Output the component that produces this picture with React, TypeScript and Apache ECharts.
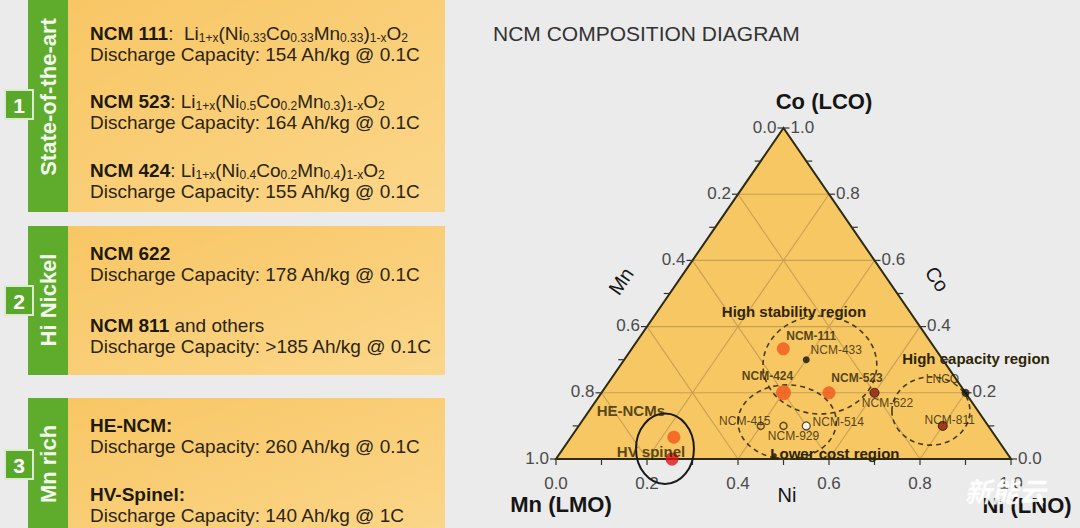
import React, { useEffect, useRef } from "react";
import * as echarts from "echarts";

const FONT = "'Liberation Sans', Arial, Helvetica, sans-serif";

// ---------------- Ternary data: Ni fraction, Co fraction (Mn = 1 - Ni - Co) ----------------
const POINT_NAMES = [
  "NCM-111", "NCM-433", "NCM-424", "NCM-523", "NCM-622", "LNCO", "NCM-811",
  "NCM-514", "NCM-929", "NCM-415", "HE-NCMs", "HV spinel", "",
];
const POINT_NI = [0.333, 0.4, 0.4, 0.5, 0.6, 0.8, 0.8, 0.5, 0.45, 0.4, 0.226, 0.255, 0.475];
const POINT_CO = [0.333, 0.3, 0.2, 0.2, 0.2, 0.2, 0.1, 0.1, 0.1, 0.1, 0.066, 0.0, 0.01];

// Regions (centre in ternary Ni/Co, radii in axis units)
const REGION_NAMES = ["High stability region", "Lower cost region", "High capacity region", ""];
const REGION_NI = [0.438, 0.452, 0.7515, 0.224];
const REGION_CO = [0.284, 0.112, 0.145, 0.031];
const REGION_RX = [0.125, 0.108, 0.0857, 0.0637];
const REGION_RY = [0.148, 0.112, 0.103, 0.1067];
const REGION_DASHED = [true, true, true, false];
const REGION_LABEL_NI = [0.2995, 0.604, 0.7705, 0];
const REGION_LABEL_CO = [0.447, 0.018, 0.305, 0];

// Axes
const CORNER_NI = [0, 1, 0];
const CORNER_CO = [0, 0, 1];
const GRID_LEVELS = [0.2, 0.4, 0.6, 0.8];
const MAJOR_TICKS = [0, 0.2, 0.4, 0.6, 0.8, 1.0];
const TICK_LABELS = ["0.0", "0.2", "0.4", "0.6", "0.8", "1.0"];
const MINOR_TICKS = [0.1, 0.3, 0.5, 0.7, 0.9];

// Left panels content
const PANEL_TITLES = ["State-of-the-art", "Hi Nickel", "Mn rich"];
const PANEL_NUMBERS = ["1", "2", "3"];
const PANEL_LINES = [
  "{b|NCM 111}{r|:  Li}{s|1+x}{r|(Ni}{s|0.33}{r|Co}{s|0.33}{r|Mn}{s|0.33}{r|)}{s|1-x}{r|O}{s|2}",
  "{r|Discharge Capacity: 154 Ah/kg @ 0.1C}",
  "{b|NCM 523}{r|: Li}{s|1+x}{r|(Ni}{s|0.5}{r|Co}{s|0.2}{r|Mn}{s|0.3}{r|)}{s|1-x}{r|O}{s|2}",
  "{r|Discharge Capacity: 164 Ah/kg @ 0.1C}",
  "{b|NCM 424}{r|: Li}{s|1+x}{r|(Ni}{s|0.4}{r|Co}{s|0.2}{r|Mn}{s|0.4}{r|)}{s|1-x}{r|O}{s|2}",
  "{r|Discharge Capacity: 155 Ah/kg @ 0.1C}",
  "{b|NCM 622}",
  "{r|Discharge Capacity: 178 Ah/kg @ 0.1C}",
  "{b|NCM 811}{r| and others}",
  "{r|Discharge Capacity: >185 Ah/kg @ 0.1C}",
  "{b|HE-NCM:}",
  "{r|Discharge Capacity: 260 Ah/kg @ 0.1C}",
  "{b|HV-Spinel:}",
  "{r|Discharge Capacity: 140 Ah/kg @ 1C}",
];

// ---------------- Layout / style (not data) ----------------
const LINE_Y = [33, 54, 101, 122, 170, 191, 253, 274, 325, 346, 425, 446, 494, 515];
const PANEL_TOPS = [0, 226, 398];
const PANEL_BOTTOMS = [212, 375, 540];
const PANEL_TITLE_Y = [97, 300, 464];
const BOX_Y = [90, 286, 450];

const POINT_STYLE: Record<string, any> = {
  "NCM-111": { size: 13, color: "#f2561d", offset: [28, -13], bold: true },
  "NCM-433": { size: 7, color: "#111", offset: [30, -10] },
  "NCM-424": { size: 15, color: "#f2561d", offset: [-16, -17], bold: true },
  "NCM-523": { size: 13, color: "#f2561d", offset: [28, -15], bold: true },
  "NCM-622": { size: 9, color: "#8a1c0c", border: "#2a0a00", bw: 1, offset: [13, 10] },
  LNCO: { size: 8, color: "#111", offset: [-23, -14] },
  "NCM-811": { size: 9, color: "#8a1c0c", border: "#2a0a00", bw: 1, offset: [7, -6] },
  "NCM-514": { size: 8, color: "#ffffff", border: "#222", bw: 1.2, offset: [32, -4] },
  "NCM-929": { size: 7, color: "rgba(0,0,0,0)", border: "#3a2a05", bw: 1.5, offset: [10, 10] },
  "NCM-415": { size: 7, color: "rgba(0,0,0,0)", border: "#3a2a05", bw: 1.5, offset: [-16, -5] },
  "HE-NCMs": { size: 13, color: "#f2561d", offset: [-43, -27], bold: true, fs: 15 },
  "HV spinel": { size: 13, color: "#e0141c", offset: [-21, -8], bold: true, fs: 15 },
  "": { size: 5, color: "#111", offset: [0, 0] },
};

const toXY = (ni: number, co: number) => [ni + co / 2, co];

function buildOption() {
  const pointData = POINT_NAMES.map((name, i) => {
    const st = POINT_STYLE[name];
    return {
      name,
      value: toXY(POINT_NI[i], POINT_CO[i]),
      symbolSize: st.size,
      itemStyle: { color: st.color, borderColor: st.border || st.color, borderWidth: st.bw || 0 },
      label: {
        show: name !== "",
        position: "inside",
        offset: st.offset,
        fontSize: st.fs || 12,
        fontWeight: st.bold ? "bold" : "normal",
        color: st.fs ? "#2e2506" : "#2b2205",
        fontFamily: FONT,
        textBorderWidth: 0,
      },
    };
  });

  const tickData: number[][] = [];
  [...MAJOR_TICKS, ...MINOR_TICKS].forEach((v) => {
    const major = MAJOR_TICKS.indexOf(v) >= 0 ? 1 : 0;
    tickData.push([...toXY(v, 0), 0, v, major]); // Ni axis (bottom)
    tickData.push([...toXY(0, 1 - v), 1, v, major]); // Mn axis (left edge)
    tickData.push([...toXY(1 - v, v), 2, v, major]); // Co axis (right edge)
  });

  const regionData = REGION_NAMES.map((n, i) => [
    ...toXY(REGION_NI[i], REGION_CO[i]),
    REGION_RX[i],
    REGION_RY[i],
    REGION_DASHED[i] ? 1 : 0,
    i,
  ]);
  const regionLabelData = REGION_NAMES.map((n, i) => [...toXY(REGION_LABEL_NI[i], REGION_LABEL_CO[i]), i]).filter(
    (d) => REGION_NAMES[d[2]] !== ""
  );

  const graphics: any[] = [];
  graphics.push({
    type: "text",
    x: 493,
    y: 33,
    style: { text: "NCM COMPOSITION DIAGRAM", fill: "#333", fontSize: 21, fontFamily: FONT, align: "left", verticalAlign: "middle" },
  });
  const axisTitle = (text: string, x: number, y: number, bold: boolean, size: number, rotation = 0) => ({
    type: "text",
    x,
    y,
    rotation,
    style: { text, fill: "#151515", fontSize: size, fontWeight: bold ? "bold" : "normal", fontFamily: FONT, align: "center", verticalAlign: "middle" },
  });
  graphics.push(axisTitle("Co (LCO)", 824, 101, true, 22));
  graphics.push(axisTitle("Mn (LMO)", 561, 504, true, 22));
  graphics.push(axisTitle("Ni (LNO)", 1027, 505, true, 22));
  graphics.push(axisTitle("Mn", 621, 281, false, 20, 0.97));
  graphics.push(axisTitle("Co", 937, 279, false, 20, -0.97));
  graphics.push(axisTitle("Ni", 787, 495, false, 20));

  PANEL_TOPS.forEach((top, i) => {
    const h = PANEL_BOTTOMS[i] - top;
    graphics.push({
      type: "rect",
      shape: { x: 68, y: top, width: 377, height: h },
      style: {
        fill: new echarts.graphic.LinearGradient(0, 0, 1, 1, [
          { offset: 0, color: "#f8c664" },
          { offset: 1, color: "#fbd68a" },
        ]),
      },
    });
    graphics.push({ type: "rect", shape: { x: 28, y: top, width: 40, height: h }, style: { fill: "#5fab2b" } });
    graphics.push({
      type: "text",
      x: 48,
      y: PANEL_TITLE_Y[i],
      rotation: Math.PI / 2,
      style: { text: PANEL_TITLES[i], fill: "#f4f9ee", fontSize: 22, fontWeight: "bold", fontFamily: FONT, align: "center", verticalAlign: "middle" },
    });
    graphics.push({
      type: "rect",
      shape: { x: 5, y: BOX_Y[i], width: 28, height: 29 },
      style: { fill: "#5aa82a", stroke: "#dcebd0", lineWidth: 2 },
    });
    graphics.push({
      type: "text",
      x: 19,
      y: BOX_Y[i] + 15,
      style: { text: PANEL_NUMBERS[i], fill: "#ffffff", fontSize: 21, fontWeight: "bold", fontFamily: FONT, align: "center", verticalAlign: "middle" },
    });
  });

  const TXT = "#2a2512";
  const rich = {
    b: { fontSize: 19, fontWeight: "bold", fontFamily: FONT, fill: "#1e1a0a", lineHeight: 22, verticalAlign: "middle" },
    r: { fontSize: 19, fontFamily: FONT, fill: TXT, lineHeight: 22, verticalAlign: "middle" },
    s: { fontSize: 12, fontFamily: FONT, fill: TXT, lineHeight: 8, verticalAlign: "bottom" },
  };
  PANEL_LINES.forEach((line, i) => {
    graphics.push({
      type: "text",
      x: 90,
      y: LINE_Y[i],
      style: { text: line, rich, fill: TXT, fontSize: 19, fontFamily: FONT, align: "left", verticalAlign: "middle" },
    });
  });

  graphics.push({
    type: "text",
    x: 1005,
    y: 490,
    z: 100,
    style: {
      text: "新能云",
      fill: "rgba(255,255,255,0.92)",
      fontSize: 27,
      fontWeight: "bold",
      fontStyle: "italic",
      fontFamily: "'Noto Sans CJK SC', sans-serif",
      align: "center",
      verticalAlign: "middle",
    },
  });

  return {
    animation: false,
    backgroundColor: "#ebebeb",
    grid: { left: 556, top: 128, width: 455, height: 331 },
    xAxis: { type: "value", min: 0, max: 1, show: false },
    yAxis: { type: "value", min: 0, max: 1, show: false },
    graphic: graphics,
    series: [
      {
        type: "custom",
        name: "triangle",
        coordinateSystem: "cartesian2d",
        silent: true,
        clip: false,
        z: 1,
        data: [[0, 0]],
        renderItem: (params: any, api: any) => {
          const pts = CORNER_NI.map((ni, i) => api.coord(toXY(ni, CORNER_CO[i])));
          const children: any[] = [{ type: "polygon", shape: { points: pts }, style: { fill: "#f6c763" } }];
          GRID_LEVELS.forEach((c) => {
            const segs = [
              [toXY(0, c), toXY(1 - c, c)], // constant Co
              [toXY(c, 0), toXY(c, 1 - c)], // constant Ni
              [toXY(1 - c, 0), toXY(0, 1 - c)], // constant Mn
            ];
            segs.forEach(([a, b]) => {
              const p1 = api.coord(a);
              const p2 = api.coord(b);
              children.push({
                type: "line",
                shape: { x1: p1[0], y1: p1[1], x2: p2[0], y2: p2[1] },
                style: { stroke: "#c9a052", lineWidth: 1.1 },
              });
            });
          });
          children.push({
            type: "polygon",
            shape: { points: pts },
            style: { fill: "none", stroke: "#2f2b12", lineWidth: 2 },
          });
          return { type: "group", children };
        },
      },
      {
        type: "custom",
        name: "ticks",
        coordinateSystem: "cartesian2d",
        silent: true,
        clip: false,
        z: 3,
        data: tickData,
        renderItem: (params: any, api: any) => {
          const p = api.coord([api.value(0), api.value(1)]);
          const side = api.value(2);
          const v = api.value(3);
          const major = api.value(4);
          const len = 6;
          const d = side === 0 ? [0, len] : side === 1 ? [-len, 0] : [len, 0];
          const children: any[] = [
            {
              type: "line",
              shape: { x1: p[0], y1: p[1], x2: p[0] + d[0], y2: p[1] + d[1] },
              style: { stroke: "#333", lineWidth: 1.2 },
            },
          ];
          if (major) {
            const label = TICK_LABELS[Math.round(v * 5)];
            children.push({
              type: "text",
              x: side === 0 ? p[0] : side === 1 ? p[0] - 7 : p[0] + 7,
              y: side === 0 ? p[1] + 24 : p[1] - 1,
              style: {
                text: label,
                fill: "#4a4a4a",
                fontSize: 17,
                fontFamily: FONT,
                align: side === 0 ? "center" : side === 1 ? "right" : "left",
                verticalAlign: "middle",
              },
            });
          }
          return { type: "group", children };
        },
      },
      {
        type: "custom",
        name: "regions",
        coordinateSystem: "cartesian2d",
        silent: true,
        clip: false,
        z: 4,
        data: regionData,
        renderItem: (params: any, api: any) => {
          const c = api.coord([api.value(0), api.value(1)]);
          const s = api.size([api.value(2), api.value(3)]);
          const dashed = api.value(4) === 1;
          return {
            type: "ellipse",
            shape: { cx: c[0], cy: c[1], rx: s[0], ry: s[1] },
            style: dashed
              ? { fill: "none", stroke: "#4a3c12", lineWidth: 1.6, lineDash: [5, 4] }
              : { fill: "none", stroke: "#1a1a1a", lineWidth: 2 },
          };
        },
      },
      {
        type: "custom",
        name: "regionLabels",
        coordinateSystem: "cartesian2d",
        silent: true,
        clip: false,
        z: 6,
        data: regionLabelData,
        renderItem: (params: any, api: any) => {
          const c = api.coord([api.value(0), api.value(1)]);
          return {
            type: "text",
            x: c[0],
            y: c[1],
            style: {
              text: REGION_NAMES[api.value(2)],
              fill: "#2e2506",
              fontSize: 15,
              fontWeight: "bold",
              fontFamily: FONT,
              align: "center",
              verticalAlign: "middle",
            },
          };
        },
      },
      {
        type: "scatter",
        name: "compositions",
        z: 5,
        silent: true,
        data: pointData,
        label: { show: true, formatter: "{b}" },
      },
    ],
  };
}

export default function App() {
  const ref = useRef<HTMLDivElement>(null);
  useEffect(() => {
    const chart = echarts.init(ref.current!, null, { renderer: "svg" });
    chart.setOption(buildOption() as any);
    return () => chart.dispose();
  }, []);
  return <div ref={ref} style={{ position: "absolute", left: 0, top: 0, width: 1080, height: 528 }} />;
}
